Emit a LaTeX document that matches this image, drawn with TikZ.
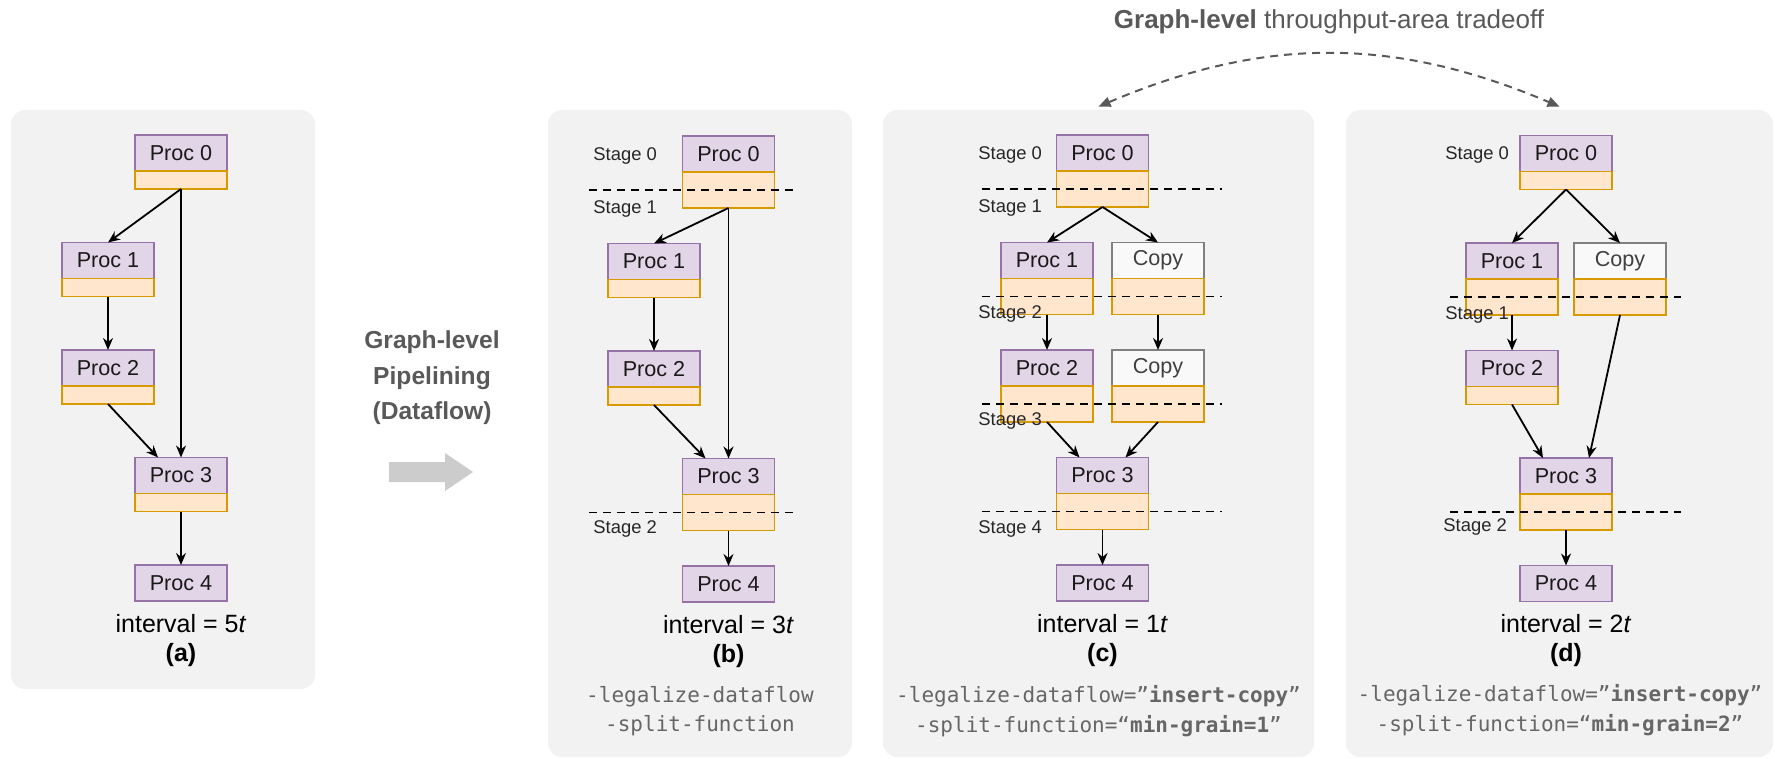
\documentclass[tikz,border=0pt]{standalone}
\usepackage{fontspec}
\setmainfont{Liberation Sans}
\setmonofont{DejaVu Sans Mono}
\usepackage{xcolor}
\usepackage{tikz}
\usetikzlibrary{arrows.meta, positioning, fit, calc}

\definecolor{panelbg}{HTML}{F2F2F2}
\definecolor{procfill}{HTML}{E1D5E7}
\definecolor{procline}{HTML}{9673A6}
\definecolor{buffill}{HTML}{FFE6CC}
\definecolor{bufline}{HTML}{D79B00}
\definecolor{copyfill}{HTML}{F9F9F9}
\definecolor{copyline}{HTML}{808080}
\definecolor{headgray}{HTML}{595959}
\definecolor{codegray}{HTML}{666666}
\definecolor{blockgray}{HTML}{CCCCCC}

\begin{document}
\begin{tikzpicture}[
    x=0.5pt, y=-0.5pt,
    node distance=35.75pt,
    panel/.style={fill=panelbg, rounded corners=7pt, inner sep=0pt},
    proc/.style={rectangle, draw=procline, fill=procfill, line width=0.8pt,
                 minimum width=46pt, minimum height=18pt, inner sep=0pt,
                 outer sep=0pt, font=\fontsize{10.8}{12}\selectfont,
                 text=black!90},
    copybox/.style={proc, draw=copyline, fill=copyfill, text=black!75},
    buf/.style={rectangle, draw=bufline, fill=buffill, line width=0.8pt,
                minimum width=46pt, minimum height=9pt, inner sep=0pt,
                outer sep=0pt},
    dbuf/.style={buf, minimum height=18pt},
    arr/.style={-{Stealth[length=6pt, width=5pt]}, line width=0.9pt},
    stageline/.style={dash pattern=on 4pt off 3pt, line width=0.8pt},
    stagelbl/.style={anchor=west, inner sep=0pt,
                     font=\fontsize{9.2}{11}\selectfont, text=black!85},
    caption/.style={align=center, inner sep=0pt,
                    font=\fontsize{12.5}{14.5}\selectfont},
    code/.style={align=center, inner sep=0pt, text=codegray,
                 font=\ttfamily\fontsize{10.5}{14.75}\selectfont},
    headline/.style={align=center, inner sep=0pt, text=headgray,
                     font=\bfseries\fontsize{12.3}{17.75}\selectfont},
    tradeoff/.style={draw=headgray, line width=1pt, dash pattern=on 4pt off 3pt,
                     {Triangle[length=6pt, width=5pt]}-{Triangle[length=6pt, width=5pt]}}
]
    \useasboundingbox (0,0) rectangle (1775,759);

    % Panels
    \node[panel, fit={(11,110) (315,689)}] (pa) {};
    \node[panel, fit={(548,110) (852,757)}] (pb) {};
    \node[panel, fit={(883,110) (1314,757)}] (pc) {};
    \node[panel, fit={(1346,110) (1773,757)}] (pd) {};

    % (a) no pipelining
    \node[proc] (a0) at (181,153) {Proc 0};
    \node[buf, below=0pt of a0] (a0b) {};
    \node[proc, below=of a0, xshift=-36.5pt] (a1) {Proc 1};
    \node[buf, below=0pt of a1] (a1b) {};
    \node[proc, below=of a1] (a2) {Proc 2};
    \node[buf, below=0pt of a2] (a2b) {};
    \node[proc, below=of a2, xshift=36.5pt] (a3) {Proc 3};
    \node[buf, below=0pt of a3] (a3b) {};
    \node[proc, below=of a3] (a4) {Proc 4};
    \node[caption, below=6.4pt of a4] (acap) {interval = 5\textit{t}\\\textbf{(a)}};

    \draw[arr] (a0b.south) -- (a1.north);
    \draw[arr] (a0b.south) -- (a3.north);
    \draw[arr] (a1b.south) -- (a2.north);
    \draw[arr] (a2b.south) -- ($(a3.north)!0.5!(a3.north west)$);
    \draw[arr] (a3b.south) -- (a4.north);

    % Middle arrow
    \node[headline] (pipe) at (432,378) {Graph-level\\Pipelining\\(Dataflow)};
    \fill[blockgray] (389,462) -- (445,462) -- (445,453) -- (473,472)
        -- (445,491) -- (445,482) -- (389,482) -- cycle;

    % (b) legalize + split
    \node[proc] (b0) at (728.5,154) {Proc 0};
    \node[dbuf, below=0pt of b0] (b0b) {};
    \node[proc, below=of b0, xshift=-37.25pt] (b1) {Proc 1};
    \node[buf, below=0pt of b1] (b1b) {};
    \node[proc, below=of b1] (b2) {Proc 2};
    \node[buf, below=0pt of b2] (b2b) {};
    \node[proc, below=of b2, xshift=37.25pt] (b3) {Proc 3};
    \node[dbuf, below=0pt of b3] (b3b) {};
    \node[proc, below=of b3] (b4) {Proc 4};
    \node[caption, below=6.4pt of b4] (bcap) {interval = 3\textit{t}\\\textbf{(b)}};

    \draw[arr] (b0b.south) -- (b1.north);
    \draw[arr] (b0b.south) -- (b3.north);
    \draw[arr] (b1b.south) -- (b2.north);
    \draw[arr] (b2b.south) -- ($(b3.north)!0.5!(b3.north west)$);
    \draw[arr] (b3b.south) -- (b4.north);

    \draw[stageline] (589,0 |- b0b.center) -- (793,0 |- b0b.center);
    \draw[stageline] (589,0 |- b3b.center) -- (793,0 |- b3b.center);
    \node[stagelbl] (bs0) at (593,156) {Stage 0};
    \node[stagelbl] (bs1) at (593,209) {Stage 1};
    \node[stagelbl] (bs2) at (593,529) {Stage 2};

    \node[code] (bcode) at (700,711) {-legalize-dataflow\\-split-function};

    % (c) insert-copy, min-grain=1
    \node[proc] (c0) at (1102.5,153) {Proc 0};
    \node[dbuf, below=0pt of c0] (c0b) {};
    \node[proc, below=of c0, xshift=-27.75pt] (c1) {Proc 1};
    \node[dbuf, below=0pt of c1] (c1b) {};
    \node[copybox, below=of c0, xshift=27.75pt] (cc1) {Copy};
    \node[dbuf, below=0pt of cc1] (cc1b) {};
    \node[proc, below=of c1] (c2) {Proc 2};
    \node[dbuf, below=0pt of c2] (c2b) {};
    \node[copybox, below=of cc1] (cc2) {Copy};
    \node[dbuf, below=0pt of cc2] (cc2b) {};
    \node[proc, below=of c2, xshift=27.75pt] (c3) {Proc 3};
    \node[dbuf, below=0pt of c3] (c3b) {};
    \node[proc, below=of c3] (c4) {Proc 4};
    \node[caption, below=6.4pt of c4] (ccap) {interval = 1\textit{t}\\\textbf{(c)}};

    \draw[arr] (c0b.south) -- (c1.north);
    \draw[arr] (c0b.south) -- (cc1.north);
    \draw[arr] (c1b.south) -- (c2.north);
    \draw[arr] (cc1b.south) -- (cc2.north);
    \draw[arr] (c2b.south) -- ($(c3.north)!0.5!(c3.north west)$);
    \draw[arr] (cc2b.south) -- ($(c3.north)!0.5!(c3.north east)$);
    \draw[arr] (c3b.south) -- (c4.north);

    \draw[stageline] (982,0 |- c0b.center) -- (1222,0 |- c0b.center);
    \draw[stageline] (982,0 |- c1b.center) -- (1222,0 |- c1b.center);
    \draw[stageline] (982,0 |- c2b.center) -- (1222,0 |- c2b.center);
    \draw[stageline] (982,0 |- c3b.center) -- (1222,0 |- c3b.center);
    \node[stagelbl] (cs0) at (978,155) {Stage 0};
    \node[stagelbl] (cs1) at (978,208) {Stage 1};
    \node[stagelbl] (cs2) at (978,314) {Stage 2};
    \node[stagelbl] (cs3) at (978,421) {Stage 3};
    \node[stagelbl] (cs4) at (978,529) {Stage 4};

    \node[code] (ccode) at (1098.5,711)
        {-legalize-dataflow=”\textbf{insert-copy}”\\-split-function=“\textbf{min-grain=1}”};

    % (d) insert-copy, min-grain=2
    \node[proc] (d0) at (1566,153.5) {Proc 0};
    \node[buf, below=0pt of d0] (d0b) {};
    \node[proc, below=of d0, xshift=-27pt] (d1) {Proc 1};
    \node[dbuf, below=0pt of d1] (d1b) {};
    \node[copybox, below=of d0, xshift=27pt] (dc1) {Copy};
    \node[dbuf, below=0pt of dc1] (dc1b) {};
    \node[proc, below=of d1] (d2) {Proc 2};
    \node[buf, below=0pt of d2] (d2b) {};
    \node[proc, below=of d2, xshift=27pt] (d3) {Proc 3};
    \node[dbuf, below=0pt of d3] (d3b) {};
    \node[proc, below=of d3] (d4) {Proc 4};
    \node[caption, below=6.4pt of d4] (dcap) {interval = 2\textit{t}\\\textbf{(d)}};

    \draw[arr] (d0b.south) -- (d1.north);
    \draw[arr] (d0b.south) -- (dc1.north);
    \draw[arr] (d1b.south) -- (d2.north);
    \draw[arr] (d2b.south) -- ($(d3.north)!0.5!(d3.north west)$);
    \draw[arr] (dc1b.south) -- ($(d3.north)!0.5!(d3.north east)$);
    \draw[arr] (d3b.south) -- (d4.north);

    \draw[stageline] (1450,0 |- d1b.center) -- (1681,0 |- d1b.center);
    \draw[stageline] (1450,0 |- d3b.center) -- (1681,0 |- d3b.center);
    \node[stagelbl] (ds0) at (1445,155) {Stage 0};
    \node[stagelbl] (ds1) at (1445,315) {Stage 1};
    \node[stagelbl] (ds2) at (1443,527) {Stage 2};

    \node[code] (dcode) at (1560,710)
        {-legalize-dataflow=”\textbf{insert-copy}”\\-split-function=“\textbf{min-grain=2}”};

    % Tradeoff between (c) and (d)
    \node[inner sep=0pt, text=headgray, font=\fontsize{13}{15}\selectfont]
        (title) at (1329,22) {\textbf{Graph-level} throughput-area tradeoff};
    \draw[tradeoff] ([yshift=1.5pt]pc.north) to[bend left=23] ([yshift=1.5pt]pd.north);
\end{tikzpicture}
\end{document}
